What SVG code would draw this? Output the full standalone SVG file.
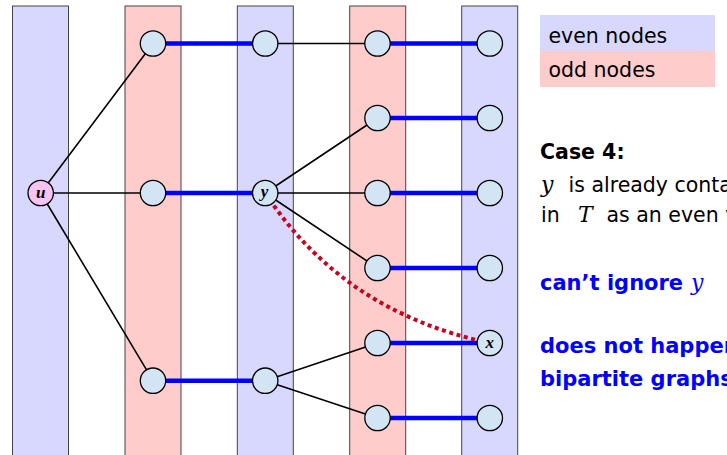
<svg xmlns="http://www.w3.org/2000/svg" width="727" height="455" viewBox="0 0 727 455">
<style>
.even{fill:#d8d8ff;stroke:#444;stroke-width:1}
.odd{fill:#ffcccc;stroke:#444;stroke-width:1}
.e{stroke:#000;stroke-width:1.6;fill:none}
.m{stroke:#0000ff;stroke-width:4.6;fill:none}
.n{fill:#d3e5f5;stroke:#000;stroke-width:1.3}
.root{fill:#f7c3f3;stroke:#000;stroke-width:1.3}
.lbl{font-family:"Liberation Serif",serif;font-style:italic;font-weight:bold;font-size:17px;text-anchor:middle}
.t{font-family:"DejaVu Sans",sans-serif;font-size:20.5px;fill:#000}
.b{font-family:"DejaVu Sans",sans-serif;font-size:21px;font-weight:bold;fill:#0000ff}
.mi{font-family:"DejaVu Serif","Liberation Serif",serif;font-style:italic;font-weight:normal}
</style>
<g id="bands">
<rect class="even" x="12.5" y="6" width="56" height="460"/>
<rect class="odd" x="125" y="6" width="56" height="460"/>
<rect class="even" x="237.3" y="6" width="56" height="460"/>
<rect class="odd" x="349.7" y="6" width="56" height="460"/>
<rect class="even" x="461.7" y="6" width="56" height="460"/>
</g>
<g id="legend">
<rect x="540" y="15" width="175" height="36" fill="#d8d8ff"/>
<rect x="540" y="51" width="175" height="36" fill="#ffcccc"/>
<text class="t" x="548.5" y="42.5" font-size="22">even nodes</text>
<text class="t" x="548.5" y="77" font-size="22">odd nodes</text>
</g>
<g id="connectors">
<path class="e" d="M40.7 193 L153 43.5 M40.7 193 L153 193 M40.7 193 L153 380.7"/>
<path class="e" d="M265.2 43.5 L377.5 43.5"/>
<path class="e" d="M265.2 193 L377.5 118 M265.2 193 L377.5 193 M265.2 193 L377.5 268"/>
<path class="e" d="M265.2 380.7 L377.5 343 M265.2 380.7 L377.5 418"/>
<path class="m" d="M153 43.5 H265.2 M153 193 H265.2 M153 380.7 H265.2"/>
<path class="m" d="M377.5 43.5 H489.8 M377.5 118 H489.8 M377.5 193 H489.8 M377.5 268 H489.8 M377.5 343 H489.8 M377.5 418 H489.8"/>
<path d="M265.2 193 Q343 312 489.8 343" fill="none" stroke="#c8001e" stroke-width="4" stroke-dasharray="4 3.6"/>
</g>
<g id="node-u"><circle class="root" cx="40.7" cy="193" r="12.7"/><text class="lbl" x="40.7" y="198">u</text></g>
<g id="node-o1"><circle class="n" cx="153" cy="43.5" r="12.7"/></g>
<g id="node-o2"><circle class="n" cx="153" cy="193" r="12.7"/></g>
<g id="node-o3"><circle class="n" cx="153" cy="380.7" r="12.7"/></g>
<g id="node-e1"><circle class="n" cx="265.2" cy="43.5" r="12.7"/></g>
<g id="node-y"><circle class="n" cx="265.2" cy="193" r="12.7"/><text class="lbl" x="264.5" y="196.5">y</text></g>
<g id="node-e3"><circle class="n" cx="265.2" cy="380.7" r="12.7"/></g>
<g id="node-a1"><circle class="n" cx="377.5" cy="43.5" r="12.7"/></g>
<g id="node-a2"><circle class="n" cx="377.5" cy="118" r="12.7"/></g>
<g id="node-a3"><circle class="n" cx="377.5" cy="193" r="12.7"/></g>
<g id="node-a4"><circle class="n" cx="377.5" cy="268" r="12.7"/></g>
<g id="node-a5"><circle class="n" cx="377.5" cy="343" r="12.7"/></g>
<g id="node-a6"><circle class="n" cx="377.5" cy="418" r="12.7"/></g>
<g id="node-b1"><circle class="n" cx="489.8" cy="43.5" r="12.7"/></g>
<g id="node-b2"><circle class="n" cx="489.8" cy="118" r="12.7"/></g>
<g id="node-b3"><circle class="n" cx="489.8" cy="193" r="12.7"/></g>
<g id="node-b4"><circle class="n" cx="489.8" cy="268" r="12.7"/></g>
<g id="node-x"><circle class="n" cx="489.8" cy="343" r="12.7"/><text class="lbl" x="489.8" y="347.5">x</text></g>
<g id="node-b6"><circle class="n" cx="489.8" cy="418" r="12.7"/></g>
<g id="text">
<text class="t" x="540" y="159" font-size="21.5" font-weight="bold">Case 4:</text>
<text class="t" x="541" y="192"><tspan class="mi" font-size="22">y</tspan><tspan x="568.5">is already contained</tspan></text>
<text class="t" x="541" y="222">in<tspan class="mi" x="578" font-size="22">T</tspan><tspan x="606.5">as an even vertex</tspan></text>
<text class="b" x="540" y="290">can’t ignore <tspan class="mi" x="691" font-size="22">y</tspan></text>
<text class="b" x="540" y="353">does not happen</text>
<text class="b" x="540" y="386">bipartite graphs</text>
</g>
</svg>
